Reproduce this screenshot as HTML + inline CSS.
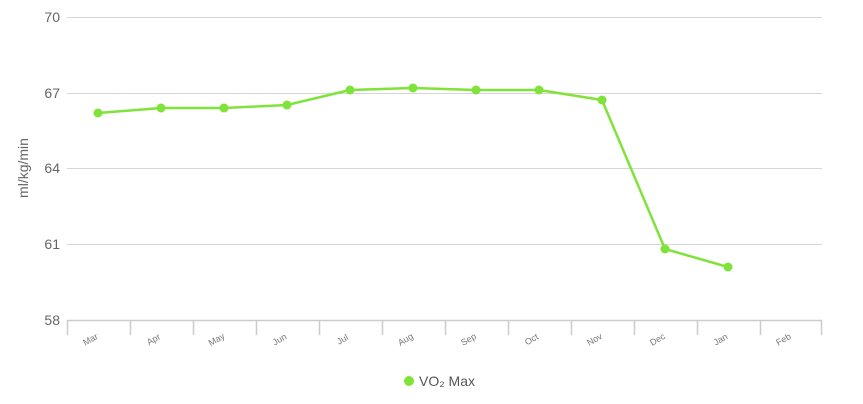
<!DOCTYPE html>
<html><head><meta charset="utf-8"><style>
html,body{margin:0;padding:0;background:#fff;}
svg{display:block;font-family:"Liberation Sans",sans-serif;}
</style></head><body>
<svg width="863" height="404" viewBox="0 0 863 404">
<g stroke="#d6d6d6" stroke-width="1">
<line x1="67" y1="17.5" x2="822" y2="17.5"/>
<line x1="67" y1="93.5" x2="822" y2="93.5"/>
<line x1="67" y1="168.5" x2="822" y2="168.5"/>
<line x1="67" y1="244.5" x2="822" y2="244.5"/>
</g>
<g stroke="#ccc" stroke-width="1.5">
<line x1="67" y1="320.5" x2="822" y2="320.5"/>
<line x1="67.5" y1="320" x2="67.5" y2="335"/>
<line x1="130.5" y1="320" x2="130.5" y2="335"/>
<line x1="193.5" y1="320" x2="193.5" y2="335"/>
<line x1="256.5" y1="320" x2="256.5" y2="335"/>
<line x1="319.5" y1="320" x2="319.5" y2="335"/>
<line x1="382.5" y1="320" x2="382.5" y2="335"/>
<line x1="445.5" y1="320" x2="445.5" y2="335"/>
<line x1="508.5" y1="320" x2="508.5" y2="335"/>
<line x1="571.5" y1="320" x2="571.5" y2="335"/>
<line x1="634.5" y1="320" x2="634.5" y2="335"/>
<line x1="697.5" y1="320" x2="697.5" y2="335"/>
<line x1="760.5" y1="320" x2="760.5" y2="335"/>
<line x1="821.5" y1="320" x2="821.5" y2="335"/>
</g>
<g fill="#666" font-size="14" text-anchor="end">
<text x="60" y="22">70</text>
<text x="60" y="98">67</text>
<text x="60" y="173">64</text>
<text x="60" y="249">61</text>
<text x="60" y="325">58</text>
</g>
<text transform="translate(28,168) rotate(-90)" fill="#666" font-size="14" text-anchor="middle">ml/kg/min</text>
<g fill="#777" font-size="9" text-anchor="middle">
<text transform="translate(92,342) rotate(-30)">Mar</text>
<text transform="translate(155,342) rotate(-30)">Apr</text>
<text transform="translate(218,342) rotate(-30)">May</text>
<text transform="translate(281,342) rotate(-30)">Jun</text>
<text transform="translate(344,342) rotate(-30)">Jul</text>
<text transform="translate(407,342) rotate(-30)">Aug</text>
<text transform="translate(470,342) rotate(-30)">Sep</text>
<text transform="translate(533,342) rotate(-30)">Oct</text>
<text transform="translate(596,342) rotate(-30)">Nov</text>
<text transform="translate(659,342) rotate(-30)">Dec</text>
<text transform="translate(722,342) rotate(-30)">Jan</text>
<text transform="translate(785,342) rotate(-30)">Feb</text>
</g>
<polyline fill="none" stroke="#7fe33a" stroke-width="2.5" stroke-linejoin="round" points="98,113 161,108 224,108 287,105 350,90 413,88 476,90 539,90 602,100 665,249 728,267"/>
<g fill="#7fe33a">
<circle cx="98" cy="113" r="4.5"/><circle cx="161" cy="108" r="4.5"/><circle cx="224" cy="108" r="4.5"/><circle cx="287" cy="105" r="4.5"/><circle cx="350" cy="90" r="4.5"/><circle cx="413" cy="88" r="4.5"/><circle cx="476" cy="90" r="4.5"/><circle cx="539" cy="90" r="4.5"/><circle cx="602" cy="100" r="4.5"/><circle cx="665" cy="249" r="4.5"/><circle cx="728" cy="267" r="4.5"/>
<circle cx="409" cy="381" r="5"/>
</g>
<text x="419" y="386" fill="#555" font-size="14">VO₂ Max</text>
</svg>
</body></html>
